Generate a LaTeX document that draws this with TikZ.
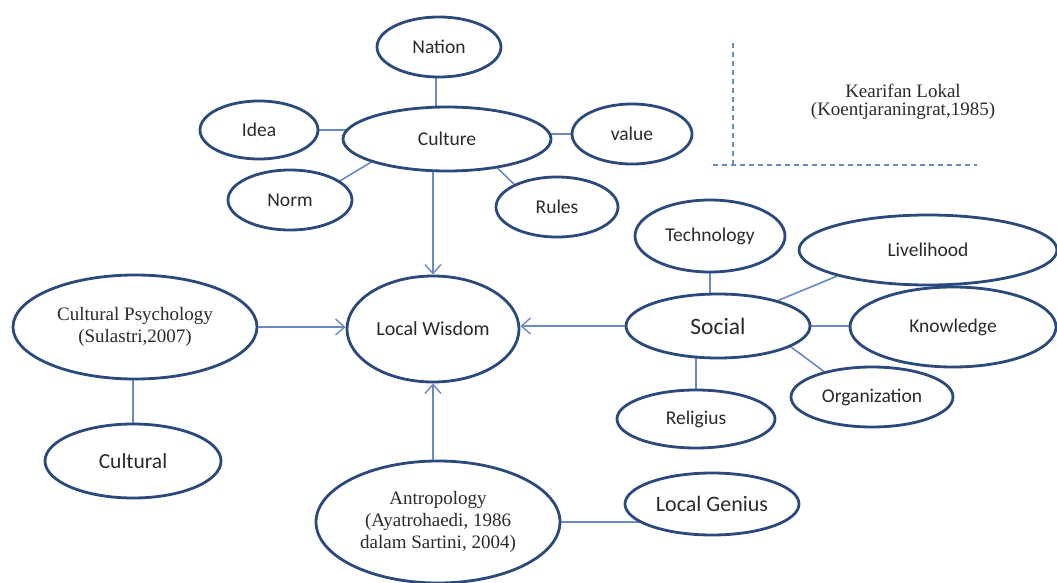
\documentclass[tikz,border=0pt]{standalone}
\usepackage{fontspec}
\setmainfont{Liberation Serif}
\newfontfamily\sansf{Carlito}
\usetikzlibrary{shapes.geometric,arrows.meta,backgrounds}
\definecolor{rim}{HTML}{2B4A7C}
\definecolor{link}{HTML}{6A8BC2}
\definecolor{txt}{HTML}{2A2A2A}
\tikzset{
  oval/.style={ellipse,draw=rim,line width=2.8pt,fill=white,inner sep=0pt,
    text=txt,align=center,font=\sansf\fontsize{19.5}{22}\selectfont},
  seriftext/.style={font=\rmfamily\fontsize{19}{22}\selectfont},
  link/.style={draw=link,line width=1.6pt},
  arr/.style={link,-{Straight Barb[length=9pt,width=16pt,line width=1.4pt]}},
  dashline/.style={draw=link,line width=1.3pt,dash pattern=on 5pt off 4pt}
}
\begin{document}
\begin{tikzpicture}[x=1pt,y=-1pt]
\useasboundingbox (0,0) rectangle (1057,583);
% nodes
\node[oval,minimum width=124pt,minimum height=60pt] (Nation) at (439,47) {Nation};
\node[oval,minimum width=208pt,minimum height=64pt] (Culture) at (447,139) {Culture};
\node[oval,minimum width=118pt,minimum height=58pt] (Idea) at (259,130) {Idea};
\node[oval,minimum width=124pt,minimum height=60pt] (Norm) at (290,200) {Norm};
\node[oval,minimum width=122pt,minimum height=60pt] (Rules) at (557,207) {Rules};
\node[oval,minimum width=120pt,minimum height=60pt] (Value) at (632,134) {value};
\node[oval,minimum width=172pt,minimum height=106pt,font=\sansf\fontsize{20}{23}\selectfont] (LW) at (433,329) {Local Wisdom};
\node[oval,minimum width=244pt,minimum height=104pt,seriftext] (CP) at (135,327) {Cultural Psychology\\(Sulastri,2007)};
\node[oval,minimum width=176pt,minimum height=74pt,font=\sansf\fontsize{21.5}{24}\selectfont] (Cult) at (133,461) {Cultural};
\node[oval,minimum width=244pt,minimum height=122pt,seriftext] (Antro) at (438,522) {Antropology\\(Ayatrohaedi, 1986\\dalam Sartini, 2004)};
\node[oval,minimum width=174pt,minimum height=62pt,font=\sansf\fontsize{22}{25}\selectfont] (LG) at (712,504) {Local Genius};
\node[oval,minimum width=158pt,minimum height=58pt] (Rel) at (696,419) {Religius};
\node[oval,minimum width=184pt,minimum height=64pt,font=\sansf\fontsize{23.5}{26}\selectfont] (Social) at (718,326) {Social};
\node[oval,minimum width=150pt,minimum height=72pt] (Tech) at (710,236) {Technology};
\node[oval,minimum width=258pt,minimum height=70pt] (Live) at (928,250) {Livelihood};
\node[oval,minimum width=206pt,minimum height=80pt] (Know) at (953,327) {Knowledge};
\node[oval,minimum width=162pt,minimum height=60pt] (Org) at (872,397) {Organization};
% caption
\node[text=txt,align=center,font=\rmfamily\fontsize{19}{18}\selectfont] (Kear) at (903,102) {Kearifan Lokal\\(Koentjaraningrat,1985)};
\coordinate (dTop) at (733,43);
\coordinate (dCorner) at (733,165);
\coordinate (dLeft) at (713,165);
\coordinate (dRight) at (977,165);
\draw[dashline] (dTop) -- (dCorner);
\draw[dashline] (dLeft) -- (dRight);
% plain connectors behind nodes
\begin{pgfonlayer}{background}
\draw[link] (Nation.center -| 436,0) -- (436,139);
\draw[link] (Idea) -- (Idea -| Culture);
\draw[link] (Value) -- (Value -| Culture);
\draw[link] (Norm.21) -- (Culture.197);
\draw[link] (Culture.330) -- (Rules.152);
\draw[link] (CP.center -| Cult) -- (Cult);
\draw[link] (Antro) -- (Antro -| LG);
\draw[link] (Social.center -| Tech) -- (Tech);
\draw[link] (Social.center -| Rel) -- (Rel);
\draw[link] (Social) -- (Social -| Know);
\draw[link] (Social.23) -- (Live.196);
\draw[link] (Social.344) -- (Org.152);
\end{pgfonlayer}
% arrows
\draw[arr] (LW.north |- Culture.south) -- (LW.north);
\draw[arr] (CP.east) -- (CP.east -| LW.west);
\draw[arr] (Social.west) -- (Social.west -| LW.east);
\draw[arr] (LW.south |- Antro.north) -- (LW.south);
\end{tikzpicture}
\end{document}
